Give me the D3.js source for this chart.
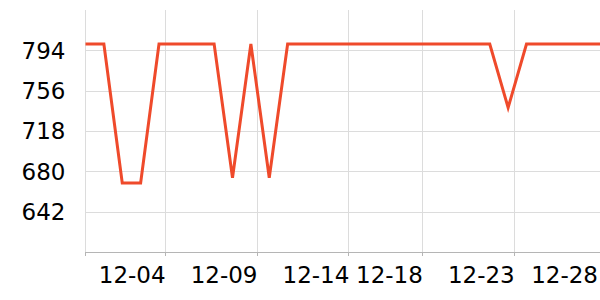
<!DOCTYPE html>
<html>
<head>
<meta charset="utf-8">
<script src="https://cdn.jsdelivr.net/npm/d3@7"></script>
<style>
  body { margin: 0; background: #fff; }
  text { font-family: "DejaVu Sans", sans-serif; }
</style>
</head>
<body>
<div id="chart"></div>
<script>
// daily values, 11-30 .. 12-28
var days = ["2023-11-30","2023-12-01","2023-12-02","2023-12-03","2023-12-04","2023-12-05",
  "2023-12-06","2023-12-07","2023-12-08","2023-12-09","2023-12-10","2023-12-11","2023-12-12",
  "2023-12-13","2023-12-14","2023-12-15","2023-12-16","2023-12-17","2023-12-18","2023-12-19",
  "2023-12-20","2023-12-21","2023-12-22","2023-12-23","2023-12-24","2023-12-25","2023-12-26",
  "2023-12-27","2023-12-28"];
var values = [800, 800, 669, 669, 800, 800, 800, 800, 674, 800, 674, 800, 800,
  800, 800, 800, 800, 800, 800, 800, 800, 800, 800, 740, 800, 800, 800, 800, 800];

var yTicks = [642, 680, 718, 756, 794];
var xTickTimes = ["2023-12-04T08:00Z","2023-12-09T08:00Z","2023-12-14T08:00Z","2023-12-18T08:00Z","2023-12-23T08:00Z"];
var xTickLabels = ["12-04","12-09","12-14","12-18","12-23"];
var lastLabel = "12-28";

var margin = {top: 10, right: 0, bottom: 48, left: 85.5},
    width = 600 - margin.left - margin.right,
    height = 300 - margin.top - margin.bottom;

var data = days.map(function(d, i) {
  return {date: new Date(d + "T00:00Z"), value: values[i]};
});

var x = d3.scaleUtc()
    .domain(d3.extent(data, function(d) { return d.date; }))
    .range([0, width]);

var y = d3.scaleLinear()
    .domain([604, 832])
    .range([height, 0]);

var svg = d3.select("#chart").append("svg")
    .attr("width", 600)
    .attr("height", 300)
  .append("g")
    .attr("transform", "translate(" + margin.left + "," + margin.top + ")");

var tickDates = xTickTimes.map(function(t) { return new Date(t); });

// horizontal grid
svg.selectAll(".hgrid")
  .data(yTicks)
  .enter().append("line")
    .attr("x1", 0).attr("x2", width)
    .attr("y1", function(d) { return Math.round(y(d)) + 0.5; })
    .attr("y2", function(d) { return Math.round(y(d)) + 0.5; })
    .attr("stroke", "#dcdcdc");

// vertical grid (domain start + ticks)
svg.selectAll(".vgrid")
  .data([x.domain()[0]].concat(tickDates))
  .enter().append("line")
    .attr("x1", function(d) { return Math.round(x(d)) ; })
    .attr("x2", function(d) { return Math.round(x(d)) ; })
    .attr("y1", 0).attr("y2", height)
    .attr("stroke", "#dcdcdc");

// bottom axis
svg.append("line")
    .attr("x1", 0).attr("x2", width)
    .attr("y1", height + 0.5).attr("y2", height + 0.5)
    .attr("stroke", "#b5b5b5");

svg.selectAll(".xtick")
  .data([x.domain()[0]].concat(tickDates))
  .enter().append("line")
    .attr("x1", function(d) { return Math.round(x(d)); })
    .attr("x2", function(d) { return Math.round(x(d)); })
    .attr("y1", height).attr("y2", height + 4)
    .attr("stroke", "#b5b5b5");

svg.selectAll(".xlabel")
  .data(tickDates)
  .enter().append("text")
    .attr("x", function(d) { return x(d) + 0.5; })
    .attr("y", height + 31)
    .attr("text-anchor", "end")
    .attr("font-size", "23px")
    .attr("fill", "#000")
    .text(function(d, i) { return xTickLabels[i]; });

svg.append("text")
    .attr("x", x(x.domain()[1]) - 2)
    .attr("y", height + 31)
    .attr("text-anchor", "end")
    .attr("font-size", "23px")
    .attr("fill", "#000")
    .text(lastLabel);

// y labels
svg.selectAll(".ylabel")
  .data(yTicks)
  .enter().append("text")
    .attr("x", -20)
    .attr("y", function(d) { return y(d); })
    .attr("dy", "0.36em")
    .attr("text-anchor", "end")
    .attr("font-size", "23px")
    .attr("fill", "#000")
    .text(function(d) { return d; });

var line = d3.line()
    .x(function(d) { return x(d.date); })
    .y(function(d) { return y(d.value); });

svg.append("path")
    .datum(data)
    .attr("d", line)
    .attr("fill", "none")
    .attr("stroke", "#ef4a2b")
    .attr("stroke-width", 3);
</script>
</body>
</html>
